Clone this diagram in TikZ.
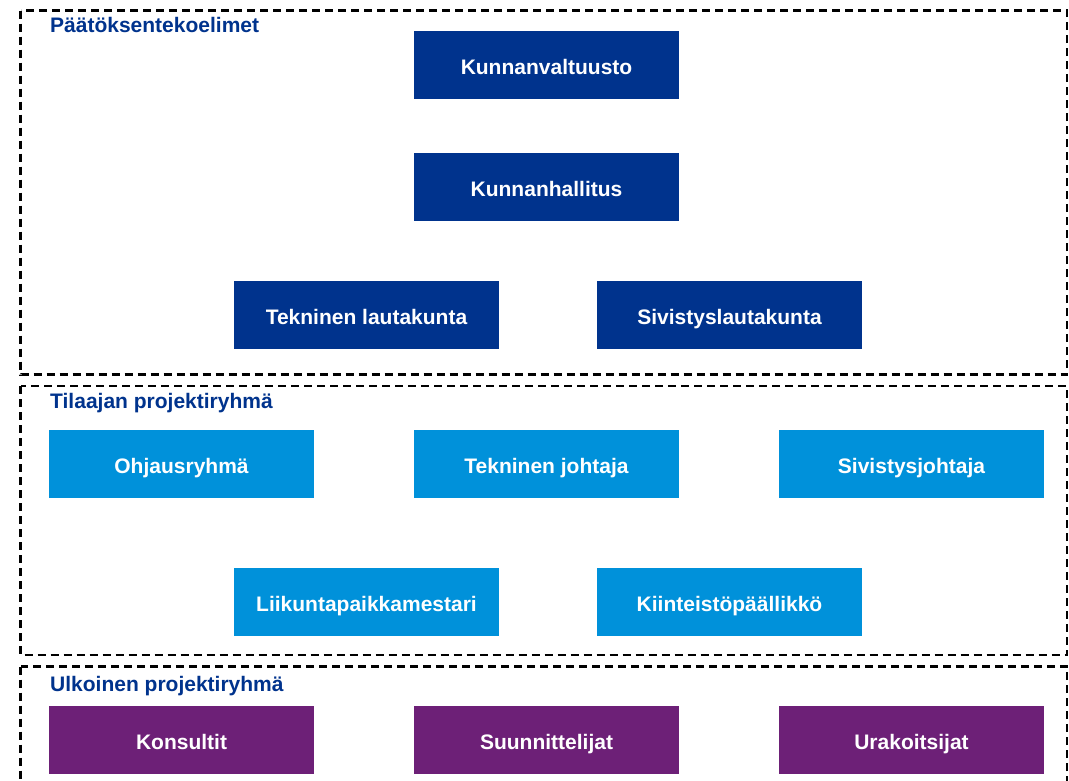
\documentclass[tikz,border=0pt]{standalone}
\usepackage{fontspec}
\setmainfont{Liberation Sans}
\definecolor{kdark}{HTML}{00338D}
\definecolor{klight}{HTML}{0091DA}
\definecolor{kpurple}{HTML}{6D2077}
\begin{document}
\begin{tikzpicture}[x=1pt,y=-1pt,
  frame/.style={draw=black,line width=2.1pt,dash pattern=on 8pt off 5pt},
  grouplabel/.style={anchor=west,inner sep=0pt,text=kdark,font=\fontsize{21}{24}\selectfont\bfseries},
  box/.style={minimum width=265pt,minimum height=68pt,inner sep=0pt,text height=19pt,text depth=0pt,text=white,font=\fontsize{21}{24}\selectfont\bfseries},
  darkbox/.style={box,fill=kdark},
  lightbox/.style={box,fill=klight},
  purplebox/.style={box,fill=kpurple}]
\clip (0,0) rectangle (1069,780);
\fill[white] (0,0) rectangle (1069,780);
% frames
\draw[frame] (20.5,10.5) rectangle (1067,374.5);
\draw[frame] (20.5,386) rectangle (1067,655);
\draw[frame] (20.5,666.5) rectangle (1067,800);
% labels
\node[grouplabel] (l1) at (50,25) {Päätöksentekoelimet};
\node[grouplabel] (l2) at (50,403) {Tilaajan projektiryhmä};
\node[grouplabel] (l3) at (50,686) {Ulkoinen projektiryhmä};
% decision bodies
\node[darkbox] (kv) at (546.5,64.5) {Kunnanvaltuusto};
\node[darkbox] (kh) at (546.5,187) {Kunnanhallitus};
\node[darkbox] (tl) at (366.5,314.5) {Tekninen lautakunta};
\node[darkbox] (sl) at (729.5,314.5) {Sivistyslautakunta};
% client project group
\node[lightbox] (oh) at (181.5,463.5) {Ohjausryhmä};
\node[lightbox] (tj) at (546.5,463.5) {Tekninen johtaja};
\node[lightbox] (sj) at (911.5,463.5) {Sivistysjohtaja};
\node[lightbox] (lm) at (366.5,601.5) {Liikuntapaikkamestari};
\node[lightbox] (kp) at (729.5,601.5) {Kiinteistöpäällikkö};
% external project group
\node[purplebox] (ko) at (181.5,739.5) {Konsultit};
\node[purplebox] (su) at (546.5,739.5) {Suunnittelijat};
\node[purplebox] (ur) at (911.5,739.5) {Urakoitsijat};
\end{tikzpicture}
\end{document}
